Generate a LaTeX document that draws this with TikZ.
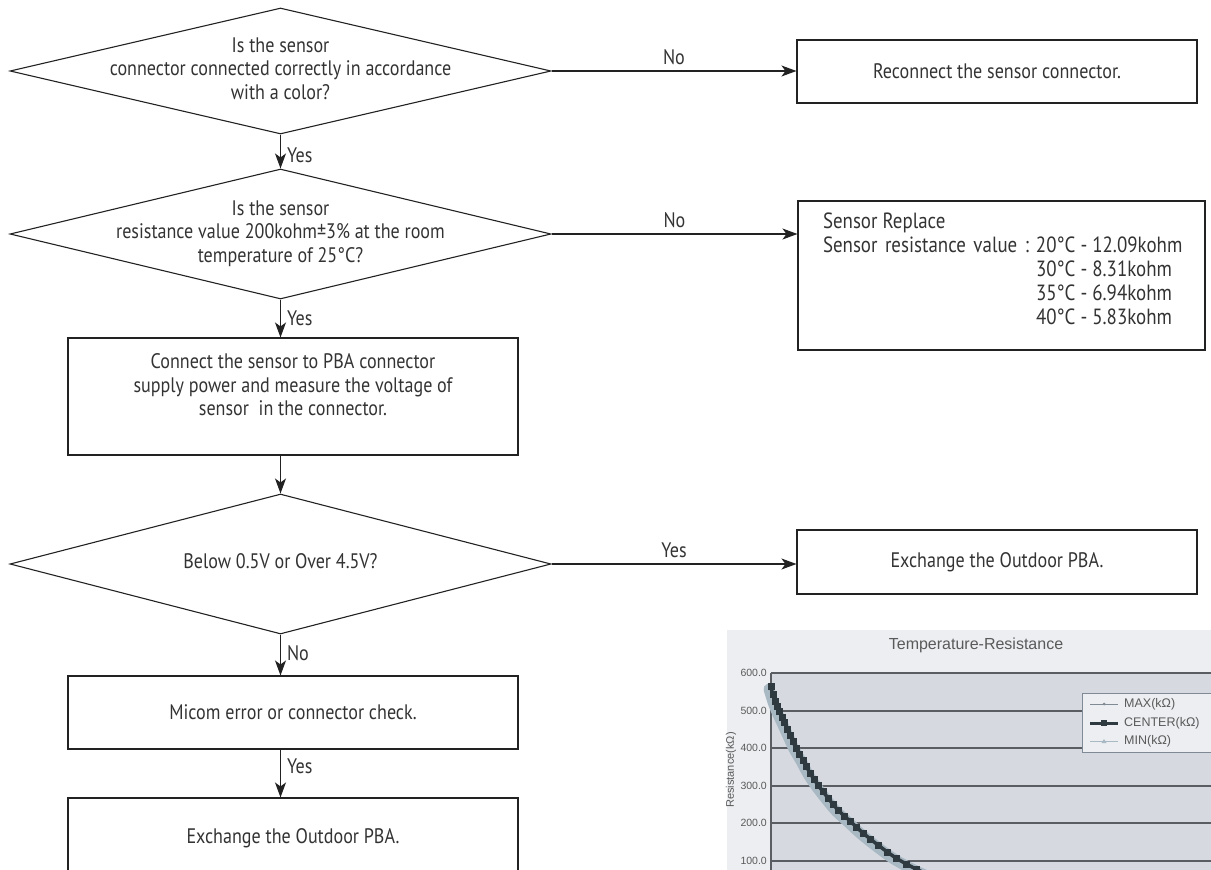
\documentclass[tikz,border=0pt]{standalone}
\usepackage{fontspec}
\setmainfont{PT Sans}[FakeStretch=0.86]
\newfontfamily\chartfont{Liberation Sans}
\usetikzlibrary{shapes.geometric,arrows.meta}
\definecolor{ink}{HTML}{222222}
\definecolor{txt}{HTML}{333333}
\definecolor{chartbg}{HTML}{ECEEF1}
\definecolor{plotbg}{HTML}{D6D9DF}
\definecolor{gridc}{HTML}{5A5E63}
\definecolor{chtxt}{HTML}{5A5A5A}
\definecolor{curvedark}{HTML}{2F3A40}
\definecolor{curvelight}{HTML}{A9B9C4}
\definecolor{maxc}{HTML}{7F8A94}
\newcommand\dtext[1]{\makebox[0pt]{\begin{tabular}{@{}c@{}}#1\end{tabular}}}
\tikzset{
  flow/.style={draw=ink, line width=1.1pt, text=txt},
  dia/.style={flow, diamond, inner sep=0pt, minimum width=541pt},
  boxn/.style={flow, rectangle, inner sep=0pt, align=center, minimum width=400pt},
  lbox/.style={flow, rectangle, inner sep=0pt, align=center, minimum width=450pt},
  conn/.style={draw=ink, line width=1.1pt, -{Stealth[length=15pt,width=11pt,inset=4pt]}},
  lbl/.style={text=txt, inner sep=2pt},
  chtext/.style={text=chtxt, inner sep=1pt, font=\chartfont\fontsize{10.5}{12}\selectfont},
  legtext/.style={chtext, anchor=west, font=\chartfont\fontsize{12.5}{14}\selectfont},
  gridline/.style={draw=gridc, line width=1.2pt},
}
\begin{document}
\begin{tikzpicture}[x=1pt, y=-1pt, font=\fontsize{21}{23.5}\selectfont]
\useasboundingbox (0,0) rectangle (1211,870);
\clip (0,0) rectangle (1211,870);

% ---------- flowchart ----------
\node[dia, minimum height=126pt] (d1) at (280.5,71)
  {\dtext{Is the sensor\\connector connected correctly in accordance\\with a color?}};
\node[boxn, minimum height=63pt] (b1) at (997,71.5) {Reconnect the sensor connector.};

\node[dia, minimum height=130pt] (d2) at (280.5,234)
  {\dtext{Is the sensor\\resistance value 200kohm±3\% at the room\\temperature of 25°C?}};
\node[flow, rectangle, inner sep=0pt, minimum width=407pt, minimum height=149pt] (b2) at (1001.5,275.5)
  {\makebox[381pt][l]{\hspace*{12pt}\fontsize{22}{24}\selectfont\begin{tabular}{@{}l@{\hspace{7pt}}l@{}}
   Sensor Replace & \\
   \makebox[206pt][s]{Sensor resistance value :} & 20°C - 12.09kohm\\
   & 30°C - 8.31kohm\\
   & 35°C - 6.94kohm\\
   & 40°C - 5.83kohm\\[7pt]
   \end{tabular}}};

\node[lbox, minimum height=117pt] (b3) at (293,396.5)
  {\begin{tabular}{@{}c@{}}Connect the sensor to PBA connector\\supply power and measure the voltage of\\sensor\ \ in the connector.\\[18pt]\end{tabular}};

\node[dia, minimum height=140pt] (d3) at (280.5,564) {\dtext{Below 0.5V or Over 4.5V?}};
\node[boxn, minimum height=64pt] (b4r) at (997,562) {Exchange the Outdoor PBA.};

\node[lbox, minimum height=73pt] (b4) at (293,712.5) {Micom error or connector check.};
\node[lbox, minimum height=80pt] (b5) at (293,838) {Exchange the Outdoor PBA.};

% connectors
\draw[conn] (d1.east) -- node[lbl, above, yshift=4pt] (l1) {No} (d1.east -| b1.west);
\draw[conn] (d1.south) -- node[lbl, right, pos=0.6, xshift=4pt] (l2) {Yes} (d2.north);
\draw[conn] (d2.east) -- node[lbl, above, yshift=4pt] (l3) {No} (d2.east -| b2.west);
\draw[conn] (d2.south) -- node[lbl, right, pos=0.5, xshift=4pt] (l4) {Yes} (d2.south |- b3.north);
\draw[conn] (d2.south |- b3.south) -- (d3.north);
\draw[conn] (d3.east) -- node[lbl, above, yshift=4pt] (l5) {Yes} (d3.east -| b4r.west);
\draw[conn] (d3.south) -- node[lbl, right, pos=0.45, xshift=4pt] (l6) {No} (d3.south |- b4.north);
\draw[conn] (d3.south |- b4.south) -- node[lbl, right, pos=0.35, xshift=4pt] (l7) {Yes} (d3.south |- b5.north);

% ---------- chart ----------
\fill[chartbg] (727,630) rectangle (1215,875);
\node[chtext, font=\chartfont\fontsize{16}{18}\selectfont] (ctitle) at (976,645) {Temperature-Resistance};
\fill[plotbg] (771,673) rectangle (1215,875);
\foreach \yy in {673,711,748,786,823,861} {
  \draw[gridline] (771,\yy) -- (1215,\yy);
}
\draw[draw=gridc, line width=1.2pt] (771,673) -- (771,875);
\node[chtext, anchor=east] (y600) at (768,673) {600.0};
\node[chtext, anchor=east] (y500) at (768,711) {500.0};
\node[chtext, anchor=east] (y400) at (768,748) {400.0};
\node[chtext, anchor=east] (y300) at (768,786) {300.0};
\node[chtext, anchor=east] (y200) at (768,823) {200.0};
\node[chtext, anchor=east] (y100) at (768,861) {100.0};
\node[chtext, rotate=90, font=\chartfont\fontsize{11}{13}\selectfont] (yaxis) at (731,770) {Resistance(k\symbol{"03A9})};

% curve
\draw[curvelight, line width=11pt, line cap=round, line join=round]
  plot[smooth] coordinates {(769,689) (773,702) (777,712) (782,723) (788,736) (794,749) (801,761) (808,774) (816,786) (826,799) (836,811) (848,822) (861,834) (876,846) (894,859) (914,870) (938,881)};
\draw[curvedark, line width=3.5pt]
  plot[smooth] coordinates {(771,688) (775,701) (779,711) (784,722) (790,735) (796,748) (803,760) (810,773) (818,785) (828,798) (838,810) (850,821) (863,833) (878,845) (896,858) (916,869) (940,880)};
\foreach \px/\py in {771/686, 773/694, 775/701, 777/706, 779/711, 782/717, 784/722, 787/729, 790/735, 793/741, 796/748, 799/754, 803/760, 806/766, 810/773, 814/779, 818/785, 823/791, 828/798, 833/804, 838/810, 844/816, 850/821, 856/827, 863/833, 870/839, 878/845, 887/852, 896/858, 906/864, 916/869} {
  \fill[curvedark] (\px-3.5,\py-3.5) rectangle (\px+3.5,\py+3.5);
}

% legend
\node[draw=maxc, fill=chartbg, line width=0.8pt, minimum width=140pt, minimum height=59pt, inner sep=0pt] (legend) at (1152,722.5) {};
\draw[maxc, line width=1pt] (1090,704) -- (1118,704);
\fill[maxc] (1104,704) circle (1.5pt);
\draw[curvedark, line width=3pt] (1090,723) -- (1118,723);
\fill[curvedark] (1101,720) rectangle (1107,726);
\draw[curvelight, line width=1pt] (1090,741) -- (1118,741);
\fill[curvelight] (1104,739) -- (1106.5,743) -- (1101.5,743) -- cycle;
\node[legtext] (lmax) at (1123,704) {MAX(k\symbol{"03A9})};
\node[legtext] (lcen) at (1123,723) {CENTER(k\symbol{"03A9})};
\node[legtext] (lmin) at (1123,741) {MIN(k\symbol{"03A9})};
\end{tikzpicture}
\end{document}
